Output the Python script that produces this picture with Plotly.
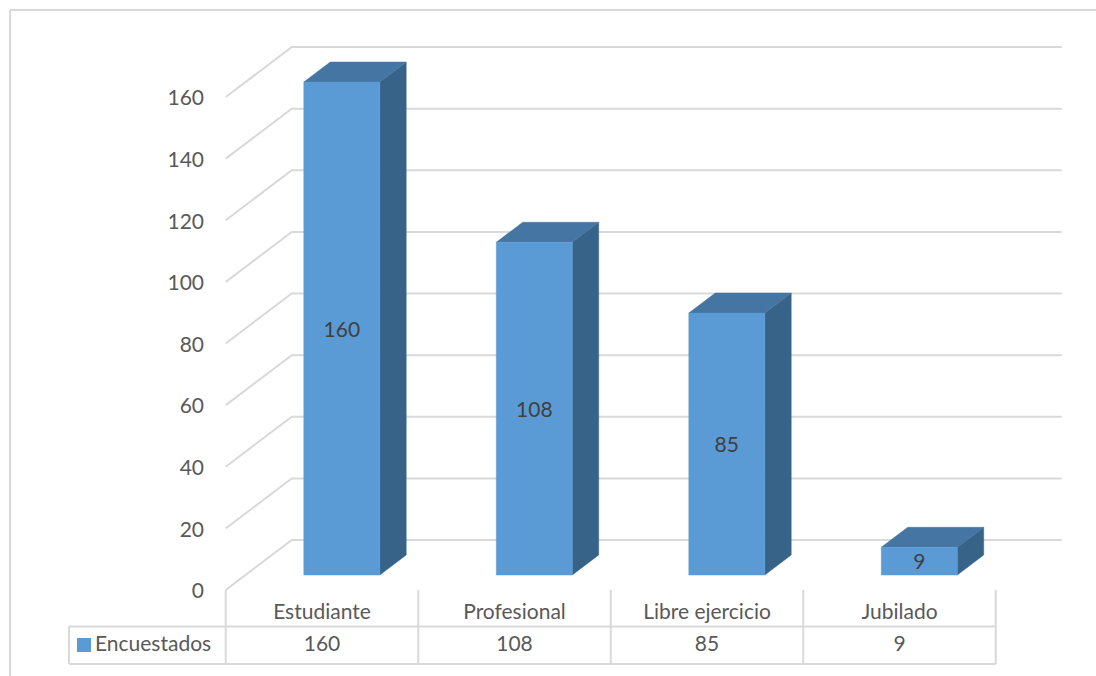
import plotly.graph_objects as go

# --- data ---------------------------------------------------------------
categorias = ["Estudiante", "Profesional", "Libre ejercicio", "Jubilado"]
encuestados = [160, 108, 85, 9]
serie = "Encuestados"
ticks_y = [0, 20, 40, 60, 80, 100, 120, 140, 160]

# --- layout / geometry ----------------------------------------------------
W, H = 1096, 676
ORIGIN_X, ORIGIN_Y = 322, 590      # pixel position of (first category, 0) on the front plane
CAT_PX = 192.5                      # pixels per category step
UNIT_PX = 3.081                     # pixels per value unit
DX = 66 / CAT_PX                    # full floor depth, in category units
DY = 50 / UNIT_PX                   # full floor depth, in value units
BAR_W = 76 / CAT_PX
D_FRONT, D_BACK = 0.3, 0.7          # bar depth band inside the floor
TEXT_DROP = 3 / UNIT_PX             # small downward nudge for text baselines

FRONT = "#5B9BD5"
SIDE = "#386388"
TOP = "#4575A2"
GRID = "#D9D9D9"
TXT = "#595959"
FONT = "Lato"
FS = 21


def proj(x, y, d):
    """Oblique projection of a point at depth d (0 = front, 1 = back wall)."""
    return x + d * DX, y + d * DY


def py(pixel_y):
    return (ORIGIN_Y - pixel_y) / UNIT_PX


def px(pixel_x):
    return (pixel_x - ORIGIN_X) / CAT_PX


n = len(categorias)
x_left, x_right = -0.5, n - 0.5

fig = go.Figure()

# back wall + left wall gridlines
gx, gy = [], []
for v in ticks_y:
    for p in (proj(x_left, v, 0), proj(x_left, v, 1), proj(x_right, v, 1)):
        gx.append(p[0]); gy.append(p[1])
    gx.append(None); gy.append(None)
fig.add_trace(go.Scatter(x=gx, y=gy, mode="lines",
                         line=dict(color=GRID, width=2), hoverinfo="skip"))


def face(points, color):
    xs = [p[0] for p in points] + [points[0][0]]
    ys = [p[1] for p in points] + [points[0][1]]
    fig.add_trace(go.Scatter(x=xs, y=ys, mode="lines", fill="toself",
                             fillcolor=color, line=dict(color=color, width=0.5),
                             hoverinfo="skip"))


# 3D columns
for i, v in enumerate(encuestados):
    l, r = i - BAR_W / 2, i + BAR_W / 2
    face([proj(r, 0, D_FRONT), proj(r, 0, D_BACK), proj(r, v, D_BACK), proj(r, v, D_FRONT)], SIDE)
    face([proj(l, v, D_FRONT), proj(r, v, D_FRONT), proj(r, v, D_BACK), proj(l, v, D_BACK)], TOP)
    face([proj(l, 0, D_FRONT), proj(r, 0, D_FRONT), proj(r, v, D_FRONT), proj(l, v, D_FRONT)], FRONT)

# value labels on the front faces
lab = [proj(i, v / 2, D_FRONT) for i, v in enumerate(encuestados)]
fig.add_trace(go.Scatter(x=[p[0] for p in lab], y=[p[1] - TEXT_DROP for p in lab], mode="text",
                         text=[str(v) for v in encuestados],
                         textfont=dict(family=FONT, size=FS, color="#404040"),
                         hoverinfo="skip"))

# value axis tick labels
fig.add_trace(go.Scatter(x=[px(204)] * len(ticks_y), y=[t - TEXT_DROP for t in ticks_y],
                         mode="text", text=[str(t) for t in ticks_y], textposition="middle left",
                         textfont=dict(family=FONT, size=FS, color=TXT),
                         hoverinfo="skip"))

# data table
row_top, row_mid, row_bot = 0, py(626.5), py(664)
tab_left = px(69)
tx, ty = [], []
for k in range(n + 1):
    xk = x_left + k
    tx += [xk, xk, None]; ty += [row_top, row_bot, None]
tx += [tab_left, x_right, None, tab_left, x_right, None, tab_left, tab_left, None]
ty += [row_mid, row_mid, None, row_bot, row_bot, None, row_mid, row_bot, None]
fig.add_trace(go.Scatter(x=tx, y=ty, mode="lines",
                         line=dict(color=GRID, width=2), hoverinfo="skip"))

y_head = py(614)
y_row = py(646)
fig.add_trace(go.Scatter(x=list(range(n)), y=[y_head] * n, mode="text", text=categorias,
                         textfont=dict(family=FONT, size=FS, color=TXT), hoverinfo="skip"))
fig.add_trace(go.Scatter(x=list(range(n)), y=[y_row] * n, mode="text",
                         text=[str(v) for v in encuestados],
                         textfont=dict(family=FONT, size=FS, color=TXT), hoverinfo="skip"))

# legend key inside the table
fig.add_trace(go.Scatter(x=[px(84)], y=[py(645)], mode="markers",
                         marker=dict(symbol="square", size=14, color=FRONT),
                         hoverinfo="skip"))
fig.add_trace(go.Scatter(x=[px(95)], y=[y_row], mode="text", text=[serie],
                         textposition="middle right",
                         textfont=dict(family=FONT, size=FS, color=TXT), hoverinfo="skip"))

fig.update_layout(
    width=W, height=H,
    margin=dict(l=0, r=0, t=0, b=0),
    paper_bgcolor="white", plot_bgcolor="white",
    showlegend=False,
    xaxis=dict(range=[px(0), px(W)], visible=False, fixedrange=True),
    yaxis=dict(range=[py(H), py(0)], visible=False, fixedrange=True),
    shapes=[
        dict(type="line", xref="paper", yref="paper", x0=10 / W, x1=1, y0=1 - 10 / H, y1=1 - 10 / H,
             line=dict(color=GRID, width=2)),
        dict(type="line", xref="paper", yref="paper", x0=10 / W, x1=10 / W, y0=0, y1=1 - 10 / H,
             line=dict(color=GRID, width=2)),
    ],
)

fig.write_html("out.html")
